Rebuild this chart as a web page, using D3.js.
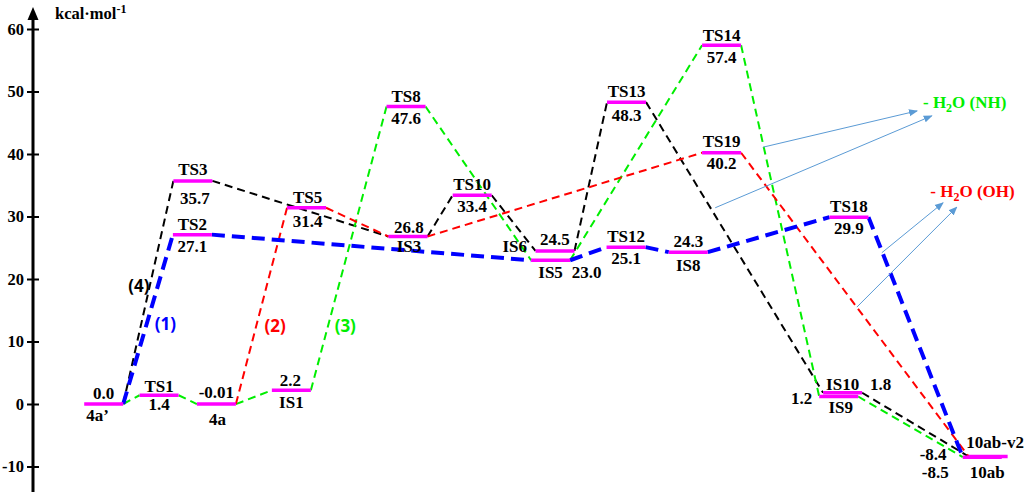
<!DOCTYPE html>
<html>
<head>
<meta charset="utf-8">
<script src="https://cdn.jsdelivr.net/npm/d3@7"></script>
<style>
  body { margin: 0; background: #fff; }
  text { font-family: "Liberation Serif", "Times New Roman", serif; font-weight: bold; }
  .pathTag { font-family: "Open Sans", "Liberation Sans", sans-serif; font-weight: bold; }
</style>
</head>
<body>
<div id="chart"></div>
<script>
// 能階資料
const levelNames = ["4a’", "TS1", "4a", "IS1", "TS3", "TS2", "TS5", "IS3", "TS8", "TS10", "IS6",
                    "IS5", "TS12", "IS8", "TS13", "TS14", "TS19", "TS18", "IS10", "IS9", "10ab-v2", "10ab"]
const levelEnergy = [0.0, 1.4, -0.01, 2.2, 35.7, 27.1, 31.4, 26.8, 47.6, 33.4, 24.5,
                     23.0, 25.1, 24.3, 48.3, 57.4, 40.2, 29.9, 1.8, 1.2, -8.4, -8.5]
const energyText = ["0.0", "1.4", "-0.01", "2.2", "35.7", "27.1", "31.4", "26.8", "47.6", "33.4", "24.5",
                    "23.0", "25.1", "24.3", "48.3", "57.4", "40.2", "29.9", "1.8", "1.2", "-8.4", "-8.5"]
// 反應座標 (橫軸位置)
const levelCoord = [1.30, 2.43, 3.60, 5.13, 3.12, 3.11, 5.44, 7.51, 7.47, 8.82, 10.51,
                    10.42, 11.96, 13.23, 11.97, 13.91, 13.91, 16.51, 16.38, 16.30, 19.35, 19.23]

// 四條路徑
const path1 = ["4a’", "TS2", "IS5", "TS12", "IS8", "TS18", "10ab"]
const path2 = ["4a", "TS5", "IS3", "TS19", "10ab-v2"]
const path3 = ["4a’", "TS1", "4a", "IS1", "TS8", "IS5", "TS14", "IS9", "10ab"]
const path4 = ["4a’", "TS3", "IS3", "TS10", "IS6", "TS13", "IS10", "10ab-v2"]

const yTicks = [-10, 0, 10, 20, 30, 40, 50, 60]

// 路徑標籤 (coord, energy)
const pathTagText = ["(4)", "(1)", "(2)", "(3)"]
const pathTagCoord = [2.02, 2.56, 4.80, 6.23]
const pathTagEnergy = [18.7, 12.6, 12.3, 12.3]

// 脫水箭頭 [起點coord, 起點energy, 終點coord, 終點energy]
const arrowNH = [[14.76, 41.1, 17.90, 46.9], [13.78, 31.4, 18.20, 46.1]]
const arrowOH = [[17.18, 24.2, 18.43, 32.2], [16.67, 15.5, 18.71, 31.5]]

function drawChart() {
  const width = 1024, height = 492
  const svg = d3.select('#chart')
                .append('svg')
                .attr('width', width)
                .attr('height', height)

  const xScale = d3.scaleLinear().domain([0, 20]).range([40, 1020])
  const yScale = d3.scaleLinear().domain([0, 60]).range([404, 29])
  const halfW = 19.5

  const levels = levelNames.map((n, i) => ({
    name: n, e: levelEnergy[i], txt: energyText[i], c: levelCoord[i]
  }))
  const byName = new Map(levels.map(d => [d.name, d]))

  // y 軸 (用一般的減號)
  const yAxis = d3.axisLeft(yScale).tickValues(yTicks).tickSize(6).tickPadding(3)
                  .tickFormat(d => String(d))
  const yAxisGroup = svg.append('g')
                        .attr('transform', 'translate(33,0)')
                        .call(yAxis)
  yAxisGroup.select('.domain').remove()
  yAxisGroup.selectAll('.tick line').attr('x1', -6).attr('x2', 6)
            .attr('stroke', '#000').attr('stroke-width', 2)
  yAxisGroup.selectAll('.tick text')
            .attr('font-size', 16.5)
            .attr('fill', '#000')
  svg.append('line')
     .attr('x1', 33).attr('x2', 33)
     .attr('y1', 16).attr('y2', height)
     .attr('stroke', '#000').attr('stroke-width', 3)
  svg.append('path')
     .attr('d', 'M33,7 L27.5,20 L38.5,20 Z')
     .attr('fill', '#000')

  const unit = svg.append('text').attr('x', 55).attr('y', 19).attr('font-size', 16.5)
  unit.append('tspan').text('kcal·mol')
  unit.append('tspan').attr('dy', -6).attr('font-size', 12).text('-1')

  // 虛線連接
  const pathStyle = [
    { names: path4, color: '#000000', w: 2, dash: '8,5' },
    { names: path3, color: '#00ee00', w: 2, dash: '8,5' },
    { names: path2, color: '#ff0000', w: 2, dash: '8,5' },
    { names: path1, color: '#0000ff', w: 4, dash: '13,7' }
  ]
  pathStyle.forEach(p => {
    const segs = d3.pairs(p.names.map(n => byName.get(n)))
    svg.append('g')
       .selectAll('line')
       .data(segs)
       .join('line')
       .attr('x1', d => xScale(d[0].c) + halfW)
       .attr('y1', d => yScale(d[0].e))
       .attr('x2', d => xScale(d[1].c) - halfW)
       .attr('y2', d => yScale(d[1].e))
       .attr('stroke', p.color)
       .attr('stroke-width', p.w)
       .attr('stroke-dasharray', p.dash)
  })

  // 能階橫線
  svg.append('g')
     .selectAll('line')
     .data(levels)
     .join('line')
     .attr('x1', d => xScale(d.c) - halfW)
     .attr('x2', d => xScale(d.c) + halfW)
     .attr('y1', d => yScale(d.e))
     .attr('y2', d => yScale(d.e))
     .attr('stroke', '#ff00ff')
     .attr('stroke-width', 3.5)

  // 標籤位置: [name dx, name dy, value dx, value dy, name anchor]
  const def = [0, -5, 0, 17]
  const tagPos = {
    "4a’": [-6, 17, 0, -5], "TS1": [0, -3, 0, 15], "4a": [1, 21, 0, -6], "IS1": [0, 18, -1, -4],
    "TS3": [0, -6, 2, 23], "TS5": [1, -5, 1, 19], "IS3": [1, 15, 1, -4],
    "IS6": [-28, 1, 0, -6, 'end'], "IS5": [0, 18, 36, 18], "IS8": [0, 19, 0, -5],
    "TS13": [0, -5, 0, 19], "TS14": [0, -4, 0, 18], "TS19": [0, -6, 0, 16],
    "IS10": [0, -3, 38, -3], "IS9": [2, 16, -37, 7],
    "10ab-v2": [7, -9, -55, 3], "10ab": [5, 21, -47, 21]
  }
  const tags = []
  levels.forEach(d => {
    const p = tagPos[d.name] || def
    const x = xScale(d.c), y = yScale(d.e)
    tags.push({ t: d.name, x: x + p[0], y: y + p[1], a: p[4] || 'middle' })
    tags.push({ t: d.txt, x: x + p[2], y: y + p[3], a: 'middle' })
  })
  svg.append('g')
     .selectAll('text')
     .data(tags)
     .join('text')
     .attr('x', d => d.x)
     .attr('y', d => d.y)
     .attr('text-anchor', d => d.a)
     .attr('font-size', 17)
     .attr('fill', '#000')
     .text(d => d.t)

  // 路徑編號
  const tagColor = ['#000000', '#0000ff', '#ff0000', '#00ee00']
  svg.append('g')
     .selectAll('text')
     .data(pathTagText)
     .join('text')
     .attr('class', 'pathTag')
     .attr('x', (d, i) => xScale(pathTagCoord[i]))
     .attr('y', (d, i) => yScale(pathTagEnergy[i]))
     .attr('text-anchor', 'middle')
     .attr('dominant-baseline', 'middle')
     .attr('font-size', 17)
     .attr('fill', (d, i) => tagColor[i])
     .text(d => d)

  // 箭頭
  svg.append('defs').append('marker')
     .attr('id', 'arr')
     .attr('viewBox', '0 0 10 10')
     .attr('refX', 9).attr('refY', 5)
     .attr('markerWidth', 9).attr('markerHeight', 9)
     .attr('markerUnits', 'userSpaceOnUse')
     .attr('orient', 'auto')
     .append('path').attr('d', 'M0,1 L10,5 L0,9 Z').attr('fill', '#5b9bd5')
  svg.append('g')
     .selectAll('line')
     .data(arrowNH.concat(arrowOH))
     .join('line')
     .attr('x1', d => xScale(d[0])).attr('y1', d => yScale(d[1]))
     .attr('x2', d => xScale(d[2])).attr('y2', d => yScale(d[3]))
     .attr('stroke', '#5b9bd5')
     .attr('stroke-width', 1)
     .attr('marker-end', 'url(#arr)')

  // 脫水標籤
  const waterTag = [
    { tail: 'O (NH)', color: '#00ee00', c: 18.02, e: 47.3 },
    { tail: 'O (OH)', color: '#ff0000', c: 18.17, e: 33.2 }
  ]
  waterTag.forEach(w => {
    const t = svg.append('text')
                 .attr('x', xScale(w.c))
                 .attr('y', yScale(w.e))
                 .attr('font-size', 17)
                 .attr('fill', w.color)
    t.append('tspan').text('- H')
    t.append('tspan').attr('dy', 4).attr('font-size', 12).text('2')
    t.append('tspan').attr('dy', -4).text(w.tail)
  })
}
drawChart()
</script>
</body>
</html>
